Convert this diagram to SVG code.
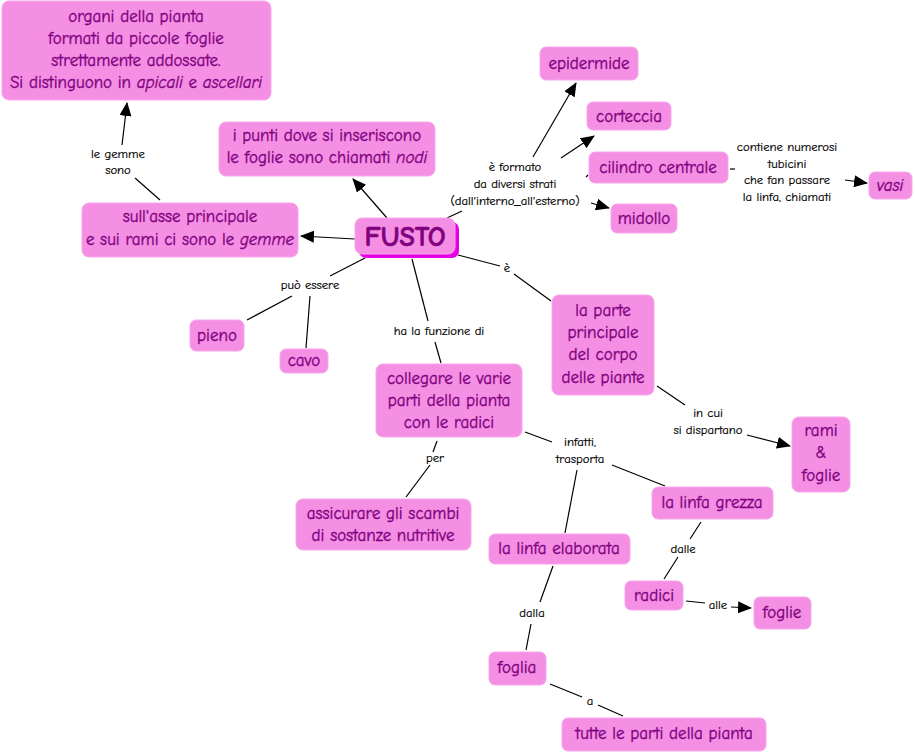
<svg xmlns="http://www.w3.org/2000/svg" width="915" height="754" viewBox="0 0 915 754">
<defs>
<marker id="arr" markerUnits="userSpaceOnUse" markerWidth="14" markerHeight="12" refX="13" refY="6" orient="auto"><path d="M0,0 L14,6 L0,12 z" fill="#000"/></marker>
<style>
.n{fill:#f48fe3;stroke:#f6a6ea;stroke-width:1}
.t{font-family:"Comic Sans MS","Comic Neue","Noto Sans",sans-serif;font-size:17px;fill:#800080;stroke:#800080;stroke-width:0.35;text-anchor:middle}
.l{font-family:"Comic Sans MS","Comic Neue","Noto Sans",sans-serif;font-size:12.7px;fill:#000;stroke:#000;stroke-width:0.2;text-anchor:middle}
.c{stroke:#000;stroke-width:1.2;fill:none}
.a{stroke:#000;stroke-width:1.2;fill:none;marker-end:url(#arr)}
</style>
</defs>
<rect width="915" height="754" fill="#fff"/>
<g id="connectors">
<line class="c" x1="160" y1="200" x2="135" y2="178"/>
<line class="a" x1="122" y1="145" x2="127" y2="103"/>
<line class="a" x1="387" y1="218" x2="353" y2="179"/>
<line class="a" x1="355" y1="239" x2="301" y2="236"/>
<line class="c" x1="447" y1="218" x2="462" y2="211"/>
<line class="a" x1="533" y1="157" x2="576" y2="83"/>
<line class="a" x1="561" y1="158" x2="594" y2="136"/>
<line class="c" x1="586" y1="177" x2="588" y2="175"/>
<line class="a" x1="591" y1="203" x2="609" y2="208"/>
<line class="c" x1="730" y1="169" x2="735" y2="169"/>
<line class="a" x1="845" y1="180" x2="867" y2="183"/>
<line class="c" x1="365" y1="258" x2="330" y2="276"/>
<line class="c" x1="292" y1="296" x2="247" y2="320"/>
<line class="c" x1="310" y1="296" x2="306" y2="348"/>
<line class="c" x1="412" y1="259" x2="428" y2="321"/>
<line class="c" x1="435" y1="342" x2="441" y2="363"/>
<line class="c" x1="458" y1="255" x2="500" y2="266"/>
<line class="c" x1="514" y1="274" x2="551" y2="301"/>
<line class="c" x1="657" y1="386" x2="685" y2="405"/>
<line class="a" x1="747" y1="435" x2="790" y2="446"/>
<line class="c" x1="437" y1="441" x2="433" y2="452"/>
<line class="c" x1="430" y1="465" x2="406" y2="497"/>
<line class="c" x1="525" y1="432" x2="552" y2="442"/>
<line class="c" x1="612" y1="465" x2="665" y2="486"/>
<line class="c" x1="577" y1="470" x2="565" y2="533"/>
<line class="c" x1="701" y1="522" x2="690" y2="539"/>
<line class="c" x1="678" y1="557" x2="664" y2="579"/>
<line class="c" x1="686" y1="601" x2="705" y2="603"/>
<line class="a" x1="731" y1="607" x2="751" y2="608"/>
<line class="c" x1="553" y1="566" x2="540" y2="602"/>
<line class="c" x1="531" y1="624" x2="526" y2="650"/>
<line class="c" x1="550" y1="684" x2="582" y2="697"/>
<line class="c" x1="598" y1="705" x2="623" y2="716"/>
<g id="labels">
<text class="l" x="118" y="158">le gemme</text>
<text class="l" x="118" y="174">sono</text>
<text class="l" x="515" y="171">è formato</text>
<text class="l" x="515" y="188">da diversi strati</text>
<text class="l" x="515" y="205">(dall'interno_all'esterno)</text>
<text class="l" x="787" y="151">contiene numerosi</text>
<text class="l" x="787" y="168">tubicini</text>
<text class="l" x="787" y="184">che fan passare</text>
<text class="l" x="787" y="201">la linfa, chiamati</text>
<text class="l" x="310" y="289">può essere</text>
<text class="l" x="439" y="335">ha la funzione di</text>
<text class="l" x="507" y="272">è</text>
<text class="l" x="708" y="417">in cui</text>
<text class="l" x="708" y="434">si dispartano</text>
<text class="l" x="435" y="462">per</text>
<text class="l" x="580" y="446">infatti,</text>
<text class="l" x="580" y="463">trasporta</text>
<text class="l" x="683" y="553">dalle</text>
<text class="l" x="718" y="609">alle</text>
<text class="l" x="532" y="617">dalla</text>
<text class="l" x="590" y="705">a</text>
</g>
</g>
<g id="n-organi"><rect class="n" x="2" y="1" width="269" height="99" rx="7"/>
<text class="t" x="136" y="22">organi della pianta</text>
<text class="t" x="136" y="44">formati da piccole foglie</text>
<text class="t" x="136" y="66">strettamente addossate.</text>
<text class="t" x="136" y="88">Si distinguono in <tspan font-style="italic">apicali</tspan> e <tspan font-style="italic">ascellari</tspan></text></g>
<g id="n-nodi"><rect class="n" x="219" y="122" width="216" height="54" rx="7"/>
<text class="t" x="327" y="141">i punti dove si inseriscono</text>
<text class="t" x="327" y="163">le foglie sono chiamati <tspan font-style="italic">nodi</tspan></text></g>
<g id="n-gemme"><rect class="n" x="82" y="203" width="216" height="54" rx="7"/>
<text class="t" x="190" y="222">sull'asse principale</text>
<text class="t" x="190" y="245">e sui rami ci sono le <tspan font-style="italic">gemme</tspan></text></g>
<g id="n-fusto"><rect x="359" y="222" width="100" height="36" rx="7" fill="#e600e6"/>
<rect class="n" x="355" y="218" width="100" height="36" rx="7"/>
<text class="t" x="405" y="246" style="font-size:28px;font-weight:bold;stroke-width:0.6">FUSTO</text></g>
<g id="n-epidermide"><rect class="n" x="540" y="47" width="98" height="33" rx="6"/><text class="t" x="589" y="69">epidermide</text></g>
<g id="n-corteccia"><rect class="n" x="587" y="102" width="84" height="28" rx="6"/><text class="t" x="629" y="122">corteccia</text></g>
<g id="n-cilindro"><rect class="n" x="589" y="152" width="139" height="31" rx="6"/><text class="t" x="658" y="173">cilindro centrale</text></g>
<g id="n-midollo"><rect class="n" x="611" y="204" width="66" height="29" rx="6"/><text class="t" x="644" y="224">midollo</text></g>
<g id="n-vasi"><rect class="n" x="869" y="172" width="43" height="27" rx="6"/><text class="t" x="890" y="191" font-style="italic">vasi</text></g>
<g id="n-parte"><rect class="n" x="552" y="295" width="102" height="100" rx="7"/>
<text class="t" x="603" y="316">la parte</text>
<text class="t" x="603" y="338">principale</text>
<text class="t" x="603" y="360">del corpo</text>
<text class="t" x="603" y="383">delle piante</text></g>
<g id="n-pieno"><rect class="n" x="190" y="320" width="54" height="31" rx="6"/><text class="t" x="217" y="341">pieno</text></g>
<g id="n-cavo"><rect class="n" x="280" y="349" width="48" height="24" rx="6"/><text class="t" x="304" y="366">cavo</text></g>
<g id="n-collegare"><rect class="n" x="376" y="364" width="146" height="73" rx="7"/>
<text class="t" x="449" y="384">collegare le varie</text>
<text class="t" x="449" y="406">parti della pianta</text>
<text class="t" x="449" y="428">con le radici</text></g>
<g id="n-rami"><rect class="n" x="792" y="417" width="58" height="75" rx="7"/>
<text class="t" x="821" y="436">rami</text>
<text class="t" x="821" y="458">&amp;</text>
<text class="t" x="821" y="481">foglie</text></g>
<g id="n-assicurare"><rect class="n" x="296" y="499" width="175" height="51" rx="7"/>
<text class="t" x="383" y="519">assicurare gli scambi</text>
<text class="t" x="383" y="541">di sostanze nutritive</text></g>
<g id="n-grezza"><rect class="n" x="652" y="487" width="121" height="32" rx="6"/><text class="t" x="712" y="508">la linfa grezza</text></g>
<g id="n-elaborata"><rect class="n" x="489" y="534" width="141" height="30" rx="6"/><text class="t" x="559" y="554">la linfa elaborata</text></g>
<g id="n-radici"><rect class="n" x="625" y="581" width="58" height="29" rx="6"/><text class="t" x="654" y="601">radici</text></g>
<g id="n-foglie"><rect class="n" x="754" y="597" width="57" height="32" rx="6"/><text class="t" x="782" y="618">foglie</text></g>
<g id="n-foglia"><rect class="n" x="489" y="652" width="57" height="33" rx="6"/><text class="t" x="517" y="673">foglia</text></g>
<g id="n-tutte"><rect class="n" x="562" y="718" width="204" height="33" rx="6"/><text class="t" x="664" y="739">tutte le parti della pianta</text></g>
</svg>
